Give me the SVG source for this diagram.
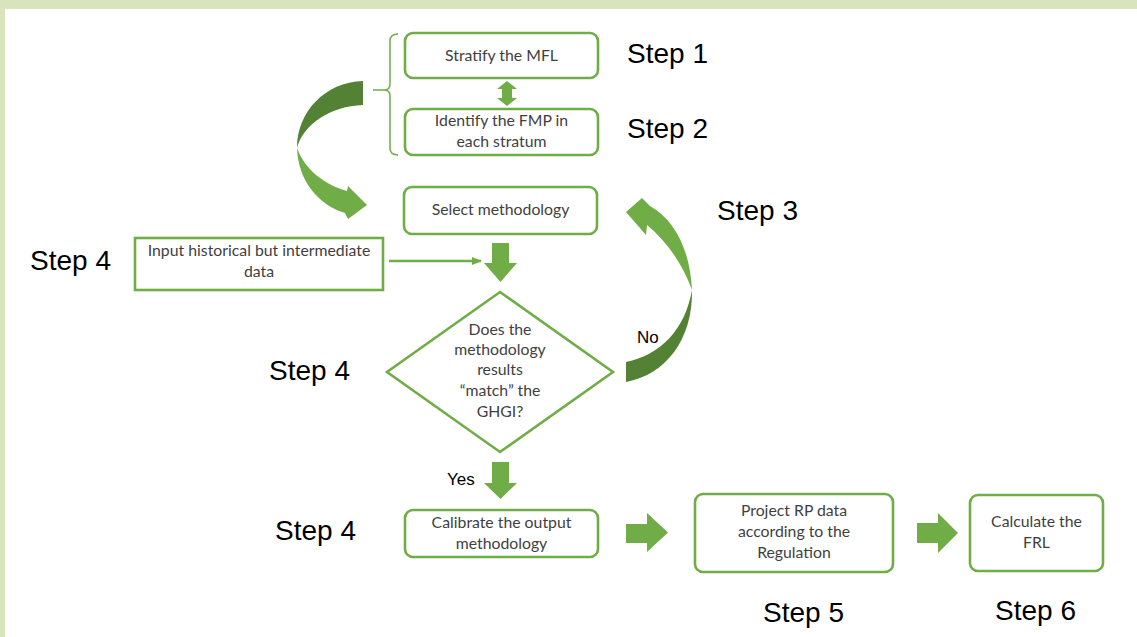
<svg xmlns="http://www.w3.org/2000/svg" width="1137" height="637" viewBox="0 0 1137 637">
<defs>
<style>
.bg{fill:#d8e4bc}
.box{fill:#fff;stroke:#70ad47;stroke-width:2.6}
.t{font-family:Lato,"Open Sans","Liberation Sans",sans-serif;font-size:15.8px;fill:#3f3f3f;text-anchor:middle}
.step{font-family:"Liberation Sans",Arial,sans-serif;font-size:28px;fill:#000}
.lbl{font-family:"Liberation Sans",Arial,sans-serif;font-size:17px;fill:#000}
.ga{fill:#70ad47}
.gd{fill:#548235}
.ln{fill:none;stroke:#70ad47;stroke-width:2.5}
.br{fill:none;stroke:#70ad47;stroke-width:1.5}
</style>
<marker id="ah" viewBox="0 0 10 10" refX="9" refY="5" markerWidth="4" markerHeight="4" orient="auto" markerUnits="strokeWidth">
<path d="M0,1 L10,5 L0,9 Z" fill="#70ad47"/>
</marker>
</defs>
<rect width="1137" height="637" fill="#fff"/>
<rect class="bg" x="0" y="0" width="1137" height="9"/>
<rect class="bg" x="0" y="0" width="5" height="637"/>

<g id="connectors">
<path class="br" d="M398,34 Q390,34 390,41 L390,84 Q390,90 384,90 L373,90 M384,90 Q390,90 390,96 L390,148 Q390,155 398,155"/>
<polygon class="ga" points="507,81 517,89 512,89 512,98 517,98 507,106 497,98 502,98 502,89 497,89"/>
<path class="gd" d="M363,81 C325,82 297,112 297,148 C303,125 330,106 363,105 Z"/>
<path class="ga" d="M297,148 C298,180 318,205 345,213 L348,219 L367,205 L348,186 L347,191 C325,185 305,170 297,148 Z"/>
<path class="ga" d="M650,206 C675,220 690,250 692,290 C682,262 665,240 647,225 L646,235 L626,212 L642,198 Z"/>
<path class="gd" d="M692,290 C693,340 665,375 626,382 L626,362 C660,355 685,330 692,290 Z"/>
<polygon class="ga" points="492,243 509,243 509,263 517,263 500.5,282 484,263 492,263"/>
<line class="ln" x1="389" y1="261" x2="481" y2="261" marker-end="url(#ah)"/>
<polygon class="ga" points="492,462 509,462 509,483 517,483 500.5,499 484,483 492,483"/>
<polygon class="ga" points="626,524 647,524 647,513 668,532.5 647,552 647,543 626,543"/>
<polygon class="ga" points="917,523 938,523 938,513 958,533 938,553 938,543 917,543"/>
</g>

<g id="step1"><rect class="box" x="405" y="33" width="193" height="45" rx="8"/><text class="t" x="501.5" y="61">Stratify the MFL</text></g>
<g id="step2"><rect class="box" x="405" y="109" width="193" height="46" rx="8"/><text class="t" x="501.5" y="126">Identify the FMP in</text><text class="t" x="501.5" y="147">each stratum</text></g>
<g id="select"><rect class="box" x="404" y="187" width="193" height="47" rx="8"/><text class="t" x="500.5" y="215">Select methodology</text></g>
<g id="input"><rect class="box" x="135" y="238" width="248" height="52"/><text class="t" x="259" y="256">Input historical but intermediate</text><text class="t" x="259" y="277">data</text></g>
<g id="decision"><polygon class="box" points="500,292 613,372 500,452 387,372"/>
<text class="t" x="500" y="335">Does the</text><text class="t" x="500" y="355">methodology</text><text class="t" x="500" y="375">results</text><text class="t" x="500" y="396">“match” the</text><text class="t" x="500" y="417">GHGI?</text></g>
<g id="calibrate"><rect class="box" x="405" y="510" width="193" height="47" rx="8"/><text class="t" x="501.5" y="528">Calibrate the output</text><text class="t" x="501.5" y="549">methodology</text></g>
<g id="project"><rect class="box" x="695" y="494" width="198" height="78" rx="8"/><text class="t" x="794" y="516">Project RP data</text><text class="t" x="794" y="537">according to the</text><text class="t" x="794" y="558">Regulation</text></g>
<g id="calculate"><rect class="box" x="970" y="495" width="133" height="76" rx="8"/><text class="t" x="1036.5" y="527">Calculate the</text><text class="t" x="1036.5" y="548">FRL</text></g>

<g id="labels">
<text class="step" x="627" y="63">Step 1</text>
<text class="step" x="627" y="138">Step 2</text>
<text class="step" x="717" y="220">Step 3</text>
<text class="step" x="30" y="270">Step 4</text>
<text class="step" x="269" y="380">Step 4</text>
<text class="step" x="275" y="540">Step 4</text>
<text class="step" x="763" y="622">Step 5</text>
<text class="step" x="995" y="620">Step 6</text>
<text class="lbl" x="637" y="343">No</text>
<text class="lbl" x="447" y="485">Yes</text>
</g>
</svg>
